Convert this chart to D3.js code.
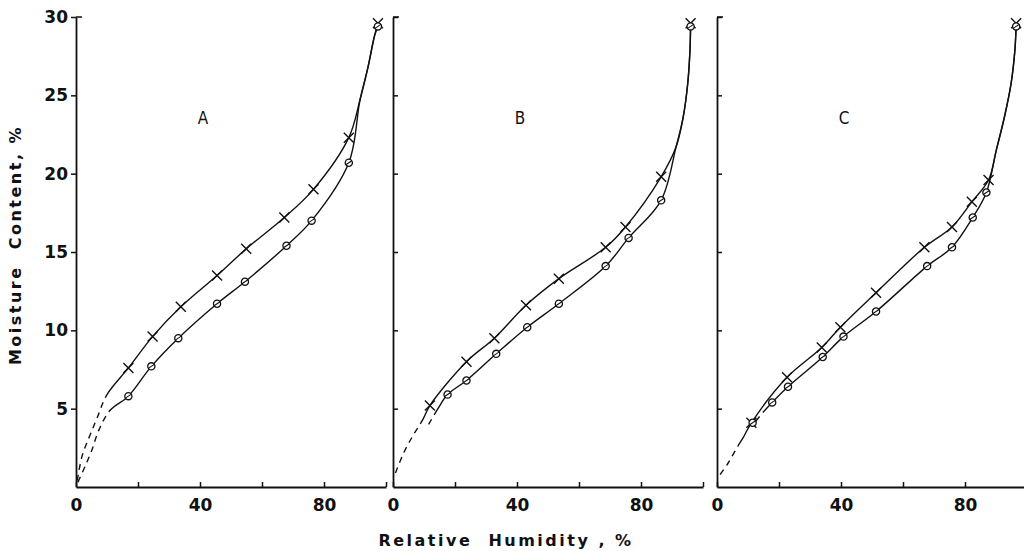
<!DOCTYPE html>
<html>
<head>
<meta charset="utf-8">
<script src="https://cdn.jsdelivr.net/npm/d3@7"></script>
<style>
  body { margin: 0; background: #fff; }
  svg { display: block; }
  text { font-family: "DejaVu Sans", sans-serif; fill: #111; }
</style>
</head>
<body>
<svg id="chart" width="1024" height="551"></svg>
<script>
// values: [relative humidity %, moisture content %]
var panelNames = ["A", "B", "C"];
var xTicks = [0, 20, 40, 60, 80, 100];
var xLabels = [0, 40, 80];
var yTicks = [5, 10, 15, 20, 25, 30];

var crossA = [[16.9, 7.6], [24.7, 9.6], [33.8, 11.5], [45.5, 13.5], [54.9, 15.2], [67.2, 17.2], [76.6, 19.0], [88, 22.3], [97.4, 29.6]];
var circleA = [[16.9, 5.8], [24.3, 7.7], [33, 9.5], [45.5, 11.7], [54.5, 13.1], [67.9, 15.4], [76, 17.0], [88, 20.7], [97.4, 29.4]];
var crossDashA = [[0.4, 0.4], [2, 2.0], [4.5, 3.3], [6.8, 4.4], [10, 5.9]];
var circleDashA = [[0.6, 0.3], [2.9, 1.3], [5.2, 2.4], [7.3, 3.6], [11, 4.9]];
var tailA = [[91.6, 24.7], [94.2, 26.8], [96.3, 28.8]];

var crossB = [[11.9, 5.2], [23.7, 8.0], [32.7, 9.5], [42.9, 11.6], [53.5, 13.3], [68.6, 15.3], [75, 16.6], [86.5, 19.8], [96, 29.6]];
var circleB = [[17.6, 5.9], [23.7, 6.8], [33.3, 8.5], [43.3, 10.2], [53.5, 11.7], [68.6, 14.1], [76, 15.9], [86.5, 18.3], [96, 29.4]];
var crossDashB = [[0.8, 0.9], [3.5, 2.2], [6.5, 3.3], [9.6, 4.3]];
var circleDashB = [[11.5, 4.0], [14.5, 5.0]];
var tailB = [[91.3, 21.7], [93.6, 23.6], [95.1, 25.8], [95.8, 27.9]];

var crossC = [[11.1, 4.1], [22.6, 7.0], [33.8, 8.9], [39.8, 10.2], [51.3, 12.4], [66.9, 15.3], [75.8, 16.6], [82.2, 18.2], [87.6, 19.6], [96.5, 29.6]];
var circleC = [[11.5, 4.1], [17.8, 5.4], [22.9, 6.4], [34.1, 8.3], [40.8, 9.6], [51.3, 11.2], [67.8, 14.1], [75.8, 15.3], [82.5, 17.2], [86.9, 18.8], [96.5, 29.4]];
var crossDashC = [[1, 0.8], [3.5, 1.5], [6.7, 2.6], [8.3, 3.1]];
var circleDashC = [[12.5, 4.2], [15, 4.8]];
var tailC = [[90.1, 21.5], [92.7, 23.6], [94.9, 25.8], [96.1, 27.9]];

var panels = [
  { name: panelNames[0], left: 76, cross: crossA, circle: circleA, crossDash: crossDashA, circleDash: circleDashA, tail: tailA },
  { name: panelNames[1], left: 393, cross: crossB, circle: circleB, crossDash: crossDashB, circleDash: circleDashB, tail: tailB },
  { name: panelNames[2], left: 717, cross: crossC, circle: circleC, crossDash: crossDashC, circleDash: circleDashC, tail: tailC }
];

var svg = d3.select("#chart"),
    plotTop = 17, plotBottom = 487, pw = 310;

var y = d3.scaleLinear().domain([0, 30]).range([plotBottom, plotTop]);

var line = function(x) {
  return d3.line()
    .x(function(d) { return x(d[0]); })
    .y(function(d) { return y(d[1]); })
    .curve(d3.curveCatmullRom.alpha(0.5));
};

panels.forEach(function(p, i) {
  var x = d3.scaleLinear().domain([0, 100]).range([p.left, p.left + pw]);
  var g = svg.append("g");

  // x axis, ticks pointing up
  var xa = g.append("g").attr("transform", "translate(0," + plotBottom + ")")
    .call(d3.axisBottom(x).tickValues(xTicks).tickSizeInner(-5).tickSizeOuter(0).tickPadding(12)
      .tickFormat(function(d) { return xLabels.indexOf(d) >= 0 ? d : ""; }));
  xa.select(".domain").attr("stroke", "#111").attr("stroke-width", 1.8);
  xa.selectAll(".tick line").attr("stroke", "#111").attr("stroke-width", 1.5);
  xa.selectAll(".tick text").style("font-size", "17px").style("font-weight", "bold").attr("fill", "#111");

  // y axis
  var ax = i == 0 ? d3.axisLeft(y).tickSizeInner(5).tickPadding(3) : d3.axisRight(y).tickSizeInner(5).tickFormat("");
  var ya = g.append("g").attr("transform", "translate(" + p.left + ",0)")
    .call(ax.tickValues(yTicks).tickSizeOuter(0));
  ya.select(".domain").attr("stroke", "#111").attr("stroke-width", 1.8);
  ya.selectAll(".tick line").attr("stroke", "#111").attr("stroke-width", 1.5);
  ya.selectAll(".tick text").style("font-size", "17px").style("font-weight", "bold").attr("fill", "#111");
  g.append("line")
    .attr("x1", p.left).attr("x2", p.left + 6)
    .attr("y1", y(30)).attr("y2", y(30))
    .attr("stroke", "#111").attr("stroke-width", 1.5);

  // panel letter
  g.append("text")
    .attr("x", x(41)).attr("y", y(23.2))
    .attr("text-anchor", "middle")
    .style("font-size", "17px")
    .style("font-family", "'DejaVu Sans Condensed', 'DejaVu Sans', sans-serif")
    .text(p.name);

  // one smooth curve per series; the first stretch (up to the last dash point) is dashed
  var mk = line(x);
  [["crossDash", "cross"], ["circleDash", "circle"]].forEach(function(k) {
    var dash = p[k[0]], pts = p[k[1]];
    var end = dash[dash.length - 1];
    var all = dash.concat(pts.filter(function(d) { return d[0] > end[0]; }), p.tail)
      .sort(function(a, b) { return a[0] - b[0]; });
    var path = g.append("path").attr("d", mk(all))
      .attr("fill", "none").attr("stroke", "#111").attr("stroke-width", 1.4);
    var node = path.node(), total = node.getTotalLength();
    var lo = 0, hi = total, xe = x(end[0]);
    for (var n = 0; n < 30; n++) {
      var mid = (lo + hi) / 2;
      if (node.getPointAtLength(mid).x < xe) lo = mid; else hi = mid;
    }
    var arr = [], len = 0;
    while (len + 11 < lo) { arr.push(6, 5); len += 11; }
    arr.push(lo - len, 0, total - lo + 5, 0);
    path.attr("stroke-dasharray", arr.join(","));
  });

  // cross markers
  g.selectAll(".cross").data(p.cross).enter().append("path")
    .attr("class", "cross")
    .attr("transform", function(d) { return "translate(" + x(d[0]) + "," + y(d[1]) + ")"; })
    .attr("d", "M-5,-5L5,5M-5,5L5,-5")
    .attr("stroke", "#111").attr("stroke-width", 1.4);

  // circle markers
  var c = g.selectAll(".circ").data(p.circle).enter().append("g")
    .attr("class", "circ")
    .attr("transform", function(d) { return "translate(" + x(d[0]) + "," + y(d[1]) + ")"; });
  c.append("circle").attr("r", 3.6).attr("fill", "#fff").attr("stroke", "#111").attr("stroke-width", 1.3);
  c.append("path").attr("d", "M-3,2L3,-2").attr("stroke", "#111").attr("stroke-width", 1.1);
});

// axis titles
svg.append("text")
  .attr("transform", "translate(21,245) rotate(-90)")
  .attr("text-anchor", "middle")
  .style("font-size", "16px").style("font-weight", "bold").style("letter-spacing", "2.5px")
  .attr("xml:space", "preserve")
  .text("Moisture  Content, %");

svg.append("text")
  .attr("x", 506).attr("y", 546)
  .attr("text-anchor", "middle")
  .style("font-size", "16px").style("font-weight", "bold").style("letter-spacing", "2.5px")
  .attr("xml:space", "preserve")
  .text("Relative  Humidity , %");
</script>
</body>
</html>
